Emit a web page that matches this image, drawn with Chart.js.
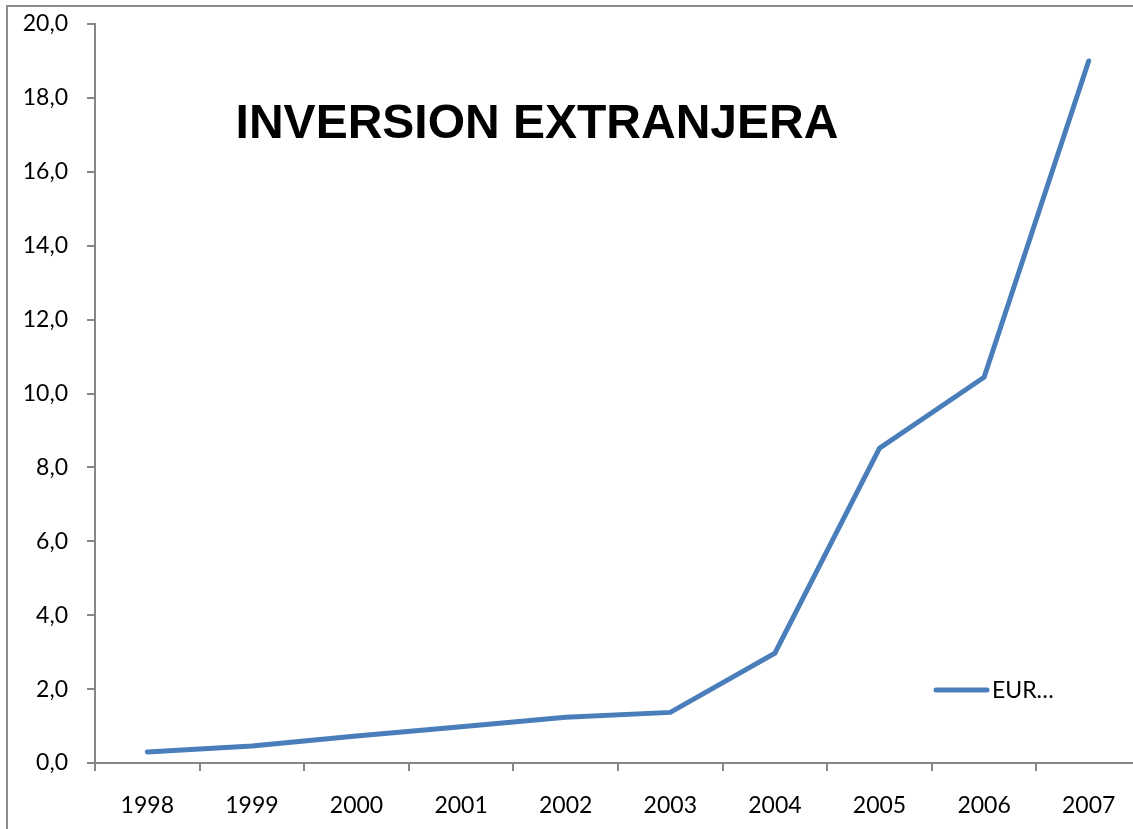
<!DOCTYPE html>
<html>
<head>
<meta charset="utf-8">
<script src="https://cdn.jsdelivr.net/npm/chart.js@4"></script>
<style>
    html, body { margin: 0; padding: 0; overflow: hidden; background: #fff; }
    #frame { position: absolute; left: 6px; top: 5px; width: 1300px; height: 1000px; border: 2px solid #8c8c8c; }
    #myLineChart { position: absolute; left: 0; top: 0; }
</style>
</head>
<body>
<div id="frame"></div>
<canvas id="myLineChart" width="1170" height="829"></canvas>
<script>
// DATOS
var years = ["1998", "1999", "2000", "2001", "2002", "2003", "2004", "2005", "2006", "2007"];
var eurValues = [0.3, 0.46, 0.73, 0.98, 1.24, 1.37, 2.97, 8.52, 10.44, 19.0];
var seriesName = "EUR";
var chartTitle = "INVERSION EXTRANJERA";
var yTicks = [0, 2, 4, 6, 8, 10, 12, 14, 16, 18, 20];

var lineColor = "#4a7ebb";
var axisColor = "#868686";
var labelFont = { family: "Lato, 'Noto Sans', sans-serif", size: 23 };

// titulo dentro del area del grafico
var titlePlugin = {
    id: "insideTitle",
    afterDraw: function (chart) {
        var c = chart.ctx;
        c.save();
        c.font = "bold 48px 'Liberation Sans', Arial, sans-serif";
        c.fillStyle = "#000";
        c.textAlign = "center";
        c.textBaseline = "middle";
        c.fillText(chartTitle, 537, 125);
        c.restore();
    },
};

// leyenda (recortada como en Excel)
var legendPlugin = {
    id: "insideLegend",
    afterDraw: function (chart) {
        var c = chart.ctx;
        var ds = chart.data.datasets[0];
        c.save();
        c.strokeStyle = ds.borderColor;
        c.lineWidth = 5;
        c.lineCap = "round";
        c.beginPath();
        c.moveTo(936, 690);
        c.lineTo(987, 690);
        c.stroke();
        c.font = labelFont.size + "px " + labelFont.family;
        c.fillStyle = "#000";
        c.textBaseline = "middle";
        c.fillText(ds.label + "…", 992, 691);
        c.restore();
    },
};

var ctx = document.getElementById("myLineChart").getContext("2d");
var myLineChart = new Chart(ctx, {
    type: "line",
    data: {
        labels: years,
        datasets: [
            {
                label: seriesName,
                data: eurValues,
                fill: false,
                borderColor: lineColor,
                borderWidth: 5,
                borderCapStyle: "round",
                borderJoinStyle: "miter",
                pointRadius: 0,
                tension: 0,
            },
        ],
    },
    options: {
        responsive: false,
        animation: false,
        layout: {
            padding: { top: 24, left: 0, right: 29, bottom: 0 },
        },
        plugins: {
            legend: { display: false },
            title: { display: false },
            tooltip: { enabled: false },
        },
        scales: {
            x: {
                offset: true,
                grid: {
                    offset: true,
                    drawOnChartArea: false,
                    color: axisColor,
                    lineWidth: 2,
                    tickLength: 8,
                },
                border: { color: axisColor, width: 2 },
                ticks: { color: "#000", font: labelFont, padding: 21, maxRotation: 0 },
                afterFit: function (scale) { scale.height = 829 - 763; },
            },
            y: {
                min: 0,
                max: 20,
                afterBuildTicks: function (scale) {
                    scale.ticks = yTicks.map(function (v) { return { value: v }; });
                },
                grid: {
                    drawOnChartArea: false,
                    color: axisColor,
                    lineWidth: 2,
                    tickLength: 8,
                },
                border: { color: axisColor, width: 2 },
                ticks: {
                    color: "#000",
                    font: labelFont,
                    padding: 19,
                    callback: function (value) { return value.toFixed(1).replace(".", ","); },
                },
                afterFit: function (scale) {
                    scale.width = 95;
                    scale.paddingTop = 0;
                    scale.paddingBottom = 0;
                },
            },
        },
    },
    plugins: [titlePlugin, legendPlugin],
});
</script>
</body>
</html>
